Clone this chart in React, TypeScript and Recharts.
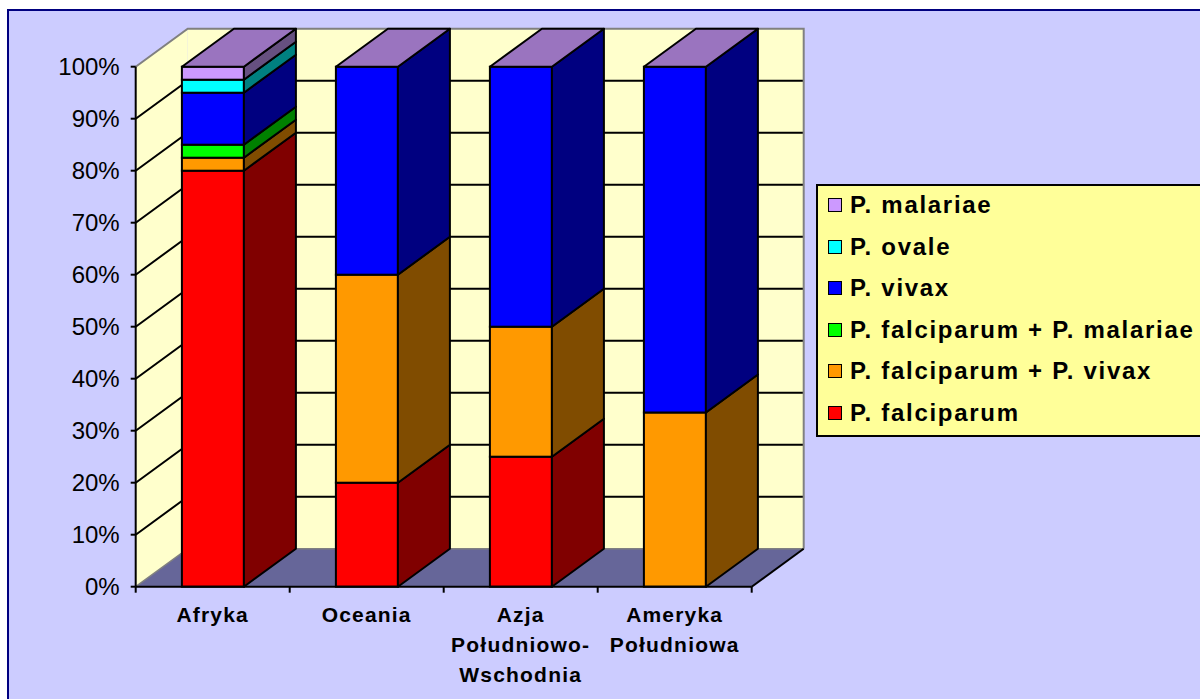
import React from 'react';
import { BarChart, Bar, XAxis, YAxis, ReferenceArea, Legend } from 'recharts';

// regions on the category axis, with the lines each label is broken into
const categories = ['Afryka', 'Oceania', 'Azja Południowo-Wschodnia', 'Ameryka Południowa'];
const categoryLines = [['Afryka'], ['Oceania'], ['Azja', 'Południowo-', 'Wschodnia'], ['Ameryka', 'Południowa']];

// share of infections per species, in percent, bottom of the stack first
const falciparum = [80, 20, 25, 0];
const falciparumVivax = [2.5, 40, 25, 33.5];
const falciparumMalariae = [2.5, 0, 0, 0];
const vivax = [10, 40, 50, 66.5];
const ovale = [2.5, 0, 0, 0];
const malariae = [2.5, 0, 0, 0];

const yTicks = [0, 10, 20, 30, 40, 50, 60, 70, 80, 90, 100];

const FONT = '"Liberation Sans", Arial, sans-serif';
const DX = 52;
const DY = -38;
const TOP_FACE = '#9A74BF';
const WALL = '#FFFFCC';
const FLOOR = '#666699';

const series = [
  { key: 'falciparum', name: 'P. falciparum', values: falciparum, color: '#FF0000', side: '#800000' },
  { key: 'falciparumVivax', name: 'P. falciparum + P. vivax', values: falciparumVivax, color: '#FF9900', side: '#804C00' },
  { key: 'falciparumMalariae', name: 'P. falciparum + P. malariae', values: falciparumMalariae, color: '#00FF00', side: '#008000' },
  { key: 'vivax', name: 'P. vivax', values: vivax, color: '#0000FF', side: '#000080' },
  { key: 'ovale', name: 'P. ovale', values: ovale, color: '#00FFFF', side: '#008080' },
  { key: 'malariae', name: 'P. malariae', values: malariae, color: '#CC99FF', side: '#665080' },
];

const data = categories.map((name, i) => {
  const row: Record<string, any> = { name, idx: i };
  series.forEach((s) => { row[s.key] = s.values[i]; });
  return row;
});

// front face, right side and (for the last filled segment) the lid of a 3D column
function makeShape(si: number) {
  return (props: any) => {
    const { x, y, width, height, payload } = props;
    if (!height || height <= 0) return <g />;
    const s = series[si];
    const hasAbove = series.slice(si + 1).some((o) => payload[o.key] > 0);
    const r = x + width;
    return (
      <g>
        <rect x={x} y={y} width={width} height={height} fill={s.color} stroke="#000" strokeWidth={2} />
        <polygon
          points={`${r},${y + height} ${r},${y} ${r + DX},${y + DY} ${r + DX},${y + height + DY}`}
          fill={s.side}
          stroke="#000"
          strokeWidth={2}
          strokeLinejoin="round"
        />
        {!hasAbove && (
          <polygon
            points={`${x},${y} ${r},${y} ${r + DX},${y + DY} ${x + DX},${y + DY}`}
            fill={TOP_FACE}
            stroke="#000"
            strokeWidth={2}
            strokeLinejoin="round"
          />
        )}
      </g>
    );
  };
}

// side wall, back wall, floor and their gridlines
function Walls(props: any) {
  const { x, y, width: w, height: h } = props;
  const b = y + h;
  return (
    <g>
      <polygon points={`${x},${b} ${x},${y} ${x + DX},${y + DY} ${x + DX},${b + DY}`} fill={WALL} />
      <rect x={x + DX} y={y + DY} width={w} height={h} fill={WALL} />
      <polygon points={`${x},${b} ${x + w},${b} ${x + w + DX},${b + DY} ${x + DX},${b + DY}`} fill={FLOOR} />
      {yTicks.filter((v) => v > 0 && v < 100).map((v) => {
        const yy = y + h * (1 - v / 100);
        return (
          <polyline
            key={v}
            points={`${x},${yy} ${x + DX},${yy + DY} ${x + w + DX},${yy + DY}`}
            fill="none"
            stroke="#000"
            strokeWidth={2}
          />
        );
      })}
      <polyline
        points={`${x},${y} ${x + DX},${y + DY} ${x + w + DX},${y + DY} ${x + w + DX},${b + DY}`}
        fill="none"
        stroke="#808080"
        strokeWidth={2}
      />
      <polyline points={`${x},${b} ${x + DX},${b + DY} ${x + w + DX},${b + DY}`} fill="none" stroke="#808080" strokeWidth={1.5} />
      <line x1={x + w} y1={b} x2={x + w + DX} y2={b + DY} stroke="#000" strokeWidth={2} />
      {categories.map((_, i) => i).concat([categories.length]).map((i) => {
        const tx = x + (i * w) / categories.length;
        return <line key={`t${i}`} x1={tx} y1={b} x2={tx} y2={b + 6} stroke="#000" strokeWidth={2} />;
      })}
    </g>
  );
}

function CategoryTick(props: any) {
  const { x, y, payload } = props;
  const lines = categoryLines[payload.index] || [payload.value];
  return (
    <g>
      {lines.map((line, i) => (
        <text
          key={i}
          x={x}
          y={y + 35 + i * 30}
          textAnchor="middle"
          fontFamily={FONT}
          fontSize={21}
          fontWeight="bold"
          letterSpacing={1.2}
          fill="#000"
        >
          {line}
        </text>
      ))}
    </g>
  );
}

// legend lists the stack top-down, like the columns read
function LegendBox() {
  const items = [...series].reverse();
  return (
    <div
      style={{
        position: 'relative',
        width: 400,
        height: 253,
        boxSizing: 'border-box',
        background: '#FFFF99',
        border: '2px solid #000',
        fontFamily: FONT,
      }}
    >
      {items.map((it, i) => (
        <div
          key={it.key}
          style={{
            position: 'absolute',
            left: 10,
            top: 3 + i * 41.5,
            height: 32,
            display: 'flex',
            alignItems: 'center',
            whiteSpace: 'nowrap',
          }}
        >
          <span
            style={{
              display: 'inline-block',
              width: 12,
              height: 12,
              background: it.color,
              border: '1.5px solid #000',
              marginRight: 8,
            }}
          />
          <span style={{ fontSize: 24, fontWeight: 'bold', letterSpacing: 1.7, color: '#000' }}>{it.name}</span>
        </div>
      ))}
    </div>
  );
}

export default function App() {
  return (
    <div style={{ position: 'fixed', left: 0, top: 0, width: 1200, height: 699, overflow: 'hidden', background: '#fff' }}>
      <div
        style={{
          position: 'absolute',
          left: 7,
          top: 9,
          width: 1210,
          height: 710,
          background: '#CCCCFF',
          borderTop: '2px solid #000080',
          borderLeft: '2px solid #000080',
        }}
      />
      <div style={{ position: 'absolute', left: 0, top: 0 }}>
        <BarChart
          width={1200}
          height={699}
          data={data}
          margin={{ top: 66.7, right: 448.3, bottom: 12.3, left: 75.7 }}
          barCategoryGap="30%"
        >
          <ReferenceArea y1={0} y2={100} ifOverflow="visible" shape={Walls} />
          <XAxis
            dataKey="name"
            height={100}
            axisLine={{ stroke: '#000', strokeWidth: 2 }}
            tickLine={false}
            tickSize={0}
            tickMargin={0}
            interval={0}
            tick={<CategoryTick />}
          />
          <YAxis
            width={60}
            domain={[0, 100]}
            ticks={yTicks}
            interval={0}
            tickFormatter={(v: number) => `${v}%`}
            axisLine={{ stroke: '#000', strokeWidth: 2 }}
            tickLine={{ stroke: '#000', strokeWidth: 2 }}
            tickSize={5}
            tickMargin={11}
            tick={{ fill: '#000', fontSize: 24, fontFamily: FONT }}
          />
          {series.map((s, i) => (
            <Bar
              key={s.key}
              dataKey={s.key}
              name={s.name}
              stackId="a"
              fill={s.color}
              shape={makeShape(i)}
              isAnimationActive={false}
            />
          ))}
          <Legend
            layout="horizontal"
            align="center"
            verticalAlign="middle"
            content={<LegendBox />}
            wrapperStyle={{ position: 'absolute', left: 816, top: 184, width: 400, height: 253 }}
          />
        </BarChart>
      </div>
    </div>
  );
}
